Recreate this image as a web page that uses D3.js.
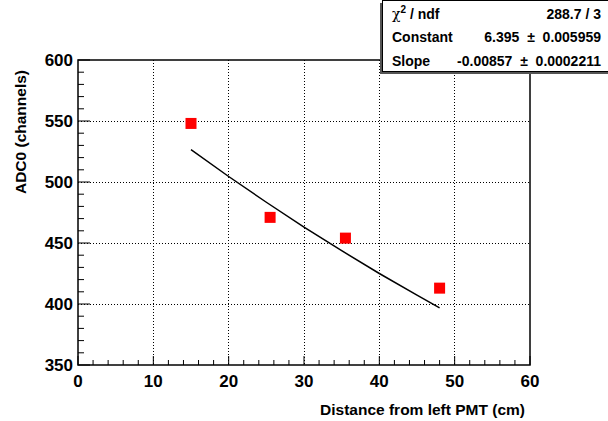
<!DOCTYPE html>
<html>
<head>
<meta charset="utf-8">
<script src="https://cdn.jsdelivr.net/npm/d3@7"></script>
<style>
  body { margin: 0; background: #fff; }
  text { font-family: "Liberation Sans", Arial, sans-serif; font-weight: bold; }
</style>
</head>
<body>
<div id="wrapper"></div>
<script>
// measured points
const distances = [15, 25.5, 35.5, 48];
const adcValues = [548, 471, 454, 413];

// fitted curve
const fitX = [15, 20, 25, 30, 35, 40, 45, 48];
const fitY = [526.6, 504.5, 483.4, 463.1, 443.7, 425.0, 407.2, 396.9];

const xTicks = [0, 10, 20, 30, 40, 50, 60];
const yTicks = [350, 400, 450, 500, 550, 600];

const statNames = ['χ2 / ndf', 'Constant', 'Slope'];
const statValues = ['288.7 / 3', '6.395 ± 0.005959', '-0.00857 ± 0.0002211'];

function drawChart() {
  let dimensions = {
    width: 608,
    height: 421,
    margins: { top: 60, right: 78, bottom: 56, left: 78 }
  };
  dimensions.boundedWidth = dimensions.width - dimensions.margins.left - dimensions.margins.right;
  dimensions.boundedHeight = dimensions.height - dimensions.margins.top - dimensions.margins.bottom;

  const wrapper = d3.select('#wrapper')
    .append('svg')
      .attr('width', dimensions.width)
      .attr('height', dimensions.height);

  const bounds = wrapper.append('g')
      .attr('transform', `translate(${dimensions.margins.left},${dimensions.margins.top})`);

  const xScale = d3.scaleLinear()
    .domain([0, 60])
    .range([0, dimensions.boundedWidth]);

  const yScale = d3.scaleLinear()
    .domain([350, 600])
    .range([dimensions.boundedHeight, 0]);

  // grid
  bounds.append('g').selectAll('line')
    .data(xTicks.slice(1, -1))
    .join('line')
      .attr('x1', d => xScale(d)).attr('x2', d => xScale(d))
      .attr('y1', 0).attr('y2', dimensions.boundedHeight)
      .attr('stroke', '#000').attr('stroke-width', 1)
      .attr('stroke-dasharray', '1,2')
      .attr('shape-rendering', 'crispEdges');
  bounds.append('g').selectAll('line')
    .data(yTicks.slice(1, -1))
    .join('line')
      .attr('x1', 0).attr('x2', dimensions.boundedWidth)
      .attr('y1', d => yScale(d)).attr('y2', d => yScale(d))
      .attr('stroke', '#000').attr('stroke-width', 1)
      .attr('stroke-dasharray', '1,2')
      .attr('shape-rendering', 'crispEdges');

  // frame
  bounds.append('rect')
      .attr('width', dimensions.boundedWidth)
      .attr('height', dimensions.boundedHeight)
      .attr('fill', 'none')
      .attr('stroke', '#000')
      .attr('stroke-width', 1.5);

  // ticks (inside, ROOT style)
  const xMinor = d3.range(0, 61, 2);
  bounds.append('g').selectAll('line')
    .data(xMinor)
    .join('line')
      .attr('x1', d => xScale(d)).attr('x2', d => xScale(d))
      .attr('y1', dimensions.boundedHeight)
      .attr('y2', d => dimensions.boundedHeight - (d % 10 === 0 ? 9 : 5))
      .attr('stroke', '#000').attr('stroke-width', 1);
  const yMinor = d3.range(350, 601, 10);
  bounds.append('g').selectAll('line')
    .data(yMinor)
    .join('line')
      .attr('y1', d => yScale(d)).attr('y2', d => yScale(d))
      .attr('x1', 0)
      .attr('x2', d => (d % 50 === 0 ? 12 : 6))
      .attr('stroke', '#000').attr('stroke-width', 1);

  // tick labels
  bounds.append('g').selectAll('text')
    .data(xTicks)
    .join('text')
      .attr('x', d => xScale(d))
      .attr('y', dimensions.boundedHeight + 22)
      .attr('text-anchor', 'middle')
      .attr('font-size', 17)
      .text(d => d);
  bounds.append('g').selectAll('text')
    .data(yTicks)
    .join('text')
      .attr('x', -5)
      .attr('y', d => yScale(d) + 6)
      .attr('text-anchor', 'end')
      .attr('font-size', 17)
      .text(d => d);

  // axis titles
  wrapper.append('text')
      .attr('x', dimensions.margins.left + dimensions.boundedWidth - 5)
      .attr('y', 415)
      .attr('text-anchor', 'end')
      .attr('font-size', 15.5)
      .text('Distance from left PMT (cm)');
  wrapper.append('text')
      .attr('transform', `translate(26,${dimensions.margins.top + 10}) rotate(-90)`)
      .attr('text-anchor', 'end')
      .attr('font-size', 15.5)
      .text('ADC0 (channels)');

  // fit line
  const lineGenerator = d3.line()
      .x((d, i) => xScale(fitX[i]))
      .y(d => yScale(d));
  bounds.append('path')
      .attr('d', lineGenerator(fitY))
      .attr('fill', 'none')
      .attr('stroke', '#000')
      .attr('stroke-width', 1.5);

  // markers
  const size = 11;
  bounds.append('g').selectAll('rect')
    .data(adcValues)
    .join('rect')
      .attr('x', (d, i) => xScale(distances[i]) - size / 2)
      .attr('y', d => yScale(d) - size / 2)
      .attr('width', size)
      .attr('height', size)
      .attr('fill', '#ff0000');

  // stats box
  const box = wrapper.append('g');
  box.append('rect')
      .attr('x', 380).attr('y', 3)
      .attr('width', 240).attr('height', 71)
      .attr('fill', '#555');
  box.append('rect')
      .attr('x', 382.5).attr('y', 0.5)
      .attr('width', 240).attr('height', 71)
      .attr('fill', '#fff')
      .attr('stroke', '#000')
      .attr('stroke-width', 1);
  const rowY = [19, 42, 66];
  box.selectAll('text.name')
    .data(statNames)
    .join('text')
      .attr('class', 'name')
      .attr('x', 392)
      .attr('y', (d, i) => rowY[i])
      .attr('font-size', 14)
      .each(function (d, i) {
        const t = d3.select(this);
        if (i === 0) {
          t.append('tspan').style('font-weight', 'normal').style('font-family', 'DejaVu Serif, serif').text('χ');
          t.append('tspan').attr('dy', -6).attr('font-size', 10).text('2');
          t.append('tspan').attr('dy', 6).text(' / ndf');
        } else {
          t.text(d);
        }
      });
  box.selectAll('text.val')
    .data(statValues)
    .join('text')
      .attr('class', 'val')
      .attr('x', 601)
      .attr('y', (d, i) => rowY[i])
      .attr('text-anchor', 'end')
      .attr('font-size', 14)
      .attr('xml:space', 'preserve')
      .text(d => d.replace(' ± ', '  ±  '));
}

drawChart();
</script>
</body>
</html>
